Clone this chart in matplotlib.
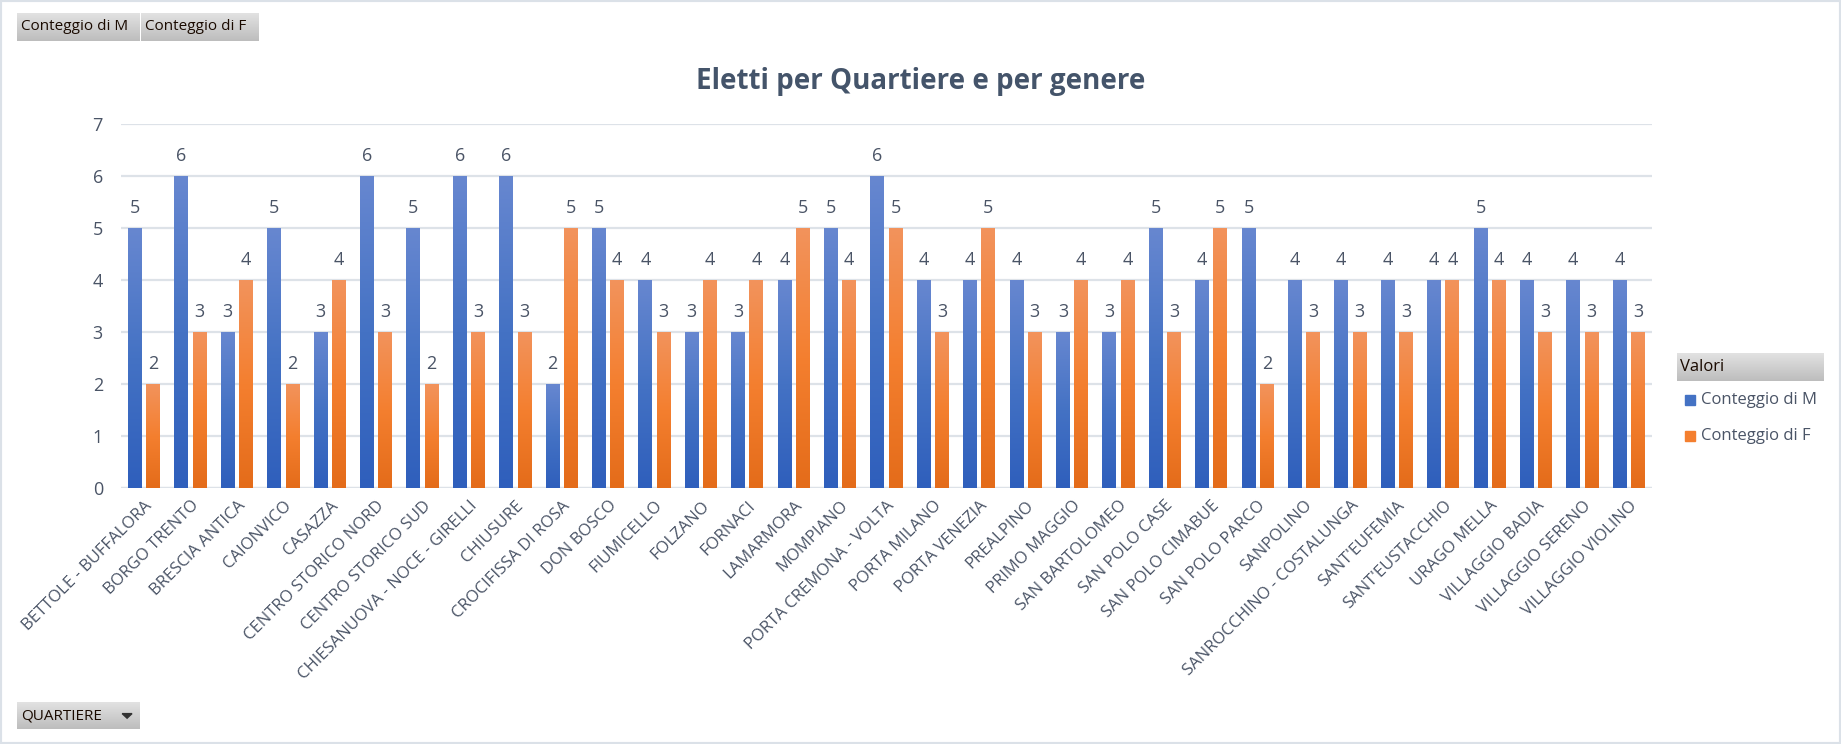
import numpy as np
import matplotlib
matplotlib.use('Agg')
import matplotlib.pyplot as plt
from matplotlib.colors import LinearSegmentedColormap
from matplotlib.patches import Rectangle, Polygon

W, H = 1841, 744
TITLE = "Eletti per Quartiere e per genere"
TEXT_COLOR = '#4a5466'
GRID_COLOR = '#dde2e8'

quartieri = [
    "BETTOLE - BUFFALORA", "BORGO TRENTO", "BRESCIA ANTICA", "CAIONVICO",
    "CASAZZA", "CENTRO STORICO NORD", "CENTRO STORICO SUD",
    "CHIESANUOVA - NOCE - GIRELLI", "CHIUSURE", "CROCIFISSA DI ROSA",
    "DON BOSCO", "FIUMICELLO", "FOLZANO", "FORNACI", "LAMARMORA", "MOMPIANO",
    "PORTA CREMONA - VOLTA", "PORTA MILANO", "PORTA VENEZIA", "PREALPINO",
    "PRIMO MAGGIO", "SAN BARTOLOMEO", "SAN POLO CASE", "SAN POLO CIMABUE",
    "SAN POLO PARCO", "SANPOLINO", "SANROCCHINO - COSTALUNGA", "SANT'EUFEMIA",
    "SANT'EUSTACCHIO", "URAGO MELLA", "VILLAGGIO BADIA", "VILLAGGIO SERENO",
    "VILLAGGIO VIOLINO",
]
conteggio_m = [5, 6, 3, 5, 3, 6, 5, 6, 6, 2, 5, 4, 3, 3, 4, 5, 6,
               4, 4, 4, 3, 3, 5, 4, 5, 4, 4, 4, 4, 5, 4, 4, 4]
conteggio_f = [2, 3, 4, 2, 4, 3, 2, 3, 3, 5, 4, 3, 4, 4, 5, 4, 5,
               3, 5, 3, 4, 4, 3, 5, 2, 3, 3, 3, 4, 4, 3, 3, 3]
y_ticks = [0, 1, 2, 3, 4, 5, 6, 7]

BLUE = ['#6787d0', '#4472c4', '#2f5fbc']
ORANGE = ['#f2935c', '#f47f2f', '#e46c1a']

plt.rcParams['font.family'] = ['Open Sans', 'DejaVu Sans']


def px_axes(fig, x0, y0, x1, y1, zorder=5):
    a = fig.add_axes([x0 / W, 1 - y1 / H, (x1 - x0) / W, (y1 - y0) / H], zorder=zorder)
    a.set_axis_off()
    return a


def gradient_box(fig, x0, y0, x1, y1, top='#e2e2e2', bottom='#bdbdbd'):
    a = px_axes(fig, x0, y0, x1, y1)
    cmap = LinearSegmentedColormap.from_list('g', [top, bottom])
    a.imshow(np.linspace(0, 1, 64).reshape(-1, 1), cmap=cmap, aspect='auto',
             extent=(0, 1, 0, 1))
    a.set_xlim(0, 1)
    a.set_ylim(0, 1)
    return a


def fill_gradient(ax, bars, colors):
    cmap = LinearSegmentedColormap.from_list('bar', colors)
    grad = np.linspace(0, 1, 128).reshape(-1, 1)
    for b in bars:
        x0, w, h = b.get_x(), b.get_width(), b.get_height()
        ax.imshow(grad, cmap=cmap, aspect='auto', extent=(x0, x0 + w, 0, h),
                  zorder=3, interpolation='bilinear')


fig = plt.figure(figsize=(W / 100, H / 100), dpi=100)
fig.patch.set_facecolor('white')

ax = fig.add_axes([121 / W, 1 - 488 / H, (1652 - 121) / W, (488 - 124) / H])
x = np.arange(len(quartieri))
bw = 0.30
bars_m = ax.bar(x - 0.197, conteggio_m, bw, color=BLUE[1], zorder=2)
bars_f = ax.bar(x + 0.197, conteggio_f, bw, color=ORANGE[1], zorder=2)
fill_gradient(ax, bars_m, BLUE)
fill_gradient(ax, bars_f, ORANGE)
ax.bar_label(bars_m, padding=8, color=TEXT_COLOR, fontsize=13)
ax.bar_label(bars_f, padding=8, color=TEXT_COLOR, fontsize=13)

ax.set_xlim(-0.5, len(quartieri) - 0.5)
ax.set_ylim(0, 7)
ax.set_yticks(y_ticks)
ax.yaxis.grid(True, color=GRID_COLOR, linewidth=1.6, zorder=0)
ax.set_axisbelow(True)
for s in ax.spines.values():
    s.set_visible(False)
ax.axhline(0, color=GRID_COLOR, linewidth=1.6, zorder=1)
ax.tick_params(axis='y', length=0, pad=13, labelsize=13, labelcolor=TEXT_COLOR)
ax.tick_params(axis='x', length=0, pad=7, labelsize=12, labelcolor=TEXT_COLOR)
ax.set_xticks(x)
ax.set_xticklabels(quartieri, rotation=45, ha='right', rotation_mode='anchor')

fig.text(0.5, 1 - 82 / H, TITLE, ha='center', va='center', fontsize=20,
         fontweight='bold', color='#44546a')

# pivot field buttons
for (x0, x1, label) in [(17, 140, 'Conteggio di M'), (141, 259, 'Conteggio di F')]:
    b = gradient_box(fig, x0, 13, x1, 41)
    b.text(4 / (x1 - x0), 0.5, label, ha='left', va='center', fontsize=11, color='#1a0a00')

b = gradient_box(fig, 17, 702, 140, 729)
b.text(4 / 123, 0.5, 'QUARTIERE', ha='left', va='center', fontsize=11, color='#1a0a00')
b.add_patch(Polygon([(0.855, 0.57), (0.935, 0.57), (0.895, 0.40)], closed=True,
                    color='#333333'))

# legend
lg = gradient_box(fig, 1677, 353, 1824, 381)
lg.text(3 / 147, 0.5, 'Valori', ha='left', va='center', fontsize=12, color='#1a0a00')
for yy, col, label in [(400, BLUE[1], 'Conteggio di M'), (436, ORANGE[1], 'Conteggio di F')]:
    fig.patches.append(Rectangle((1685 / W, 1 - (yy + 5) / H), 10 / W, 10 / H,
                                 transform=fig.transFigure, color=col, figure=fig))
    fig.text(1701 / W, 1 - yy / H, label, ha='left', va='center', fontsize=12,
             color=TEXT_COLOR)

# outer border
fig.patches.append(Rectangle((0, 0), 1, 1, transform=fig.transFigure, fill=False,
                             edgecolor='#dbe1e8', linewidth=3, figure=fig))

fig.savefig('out.png', dpi=100, facecolor='white')
